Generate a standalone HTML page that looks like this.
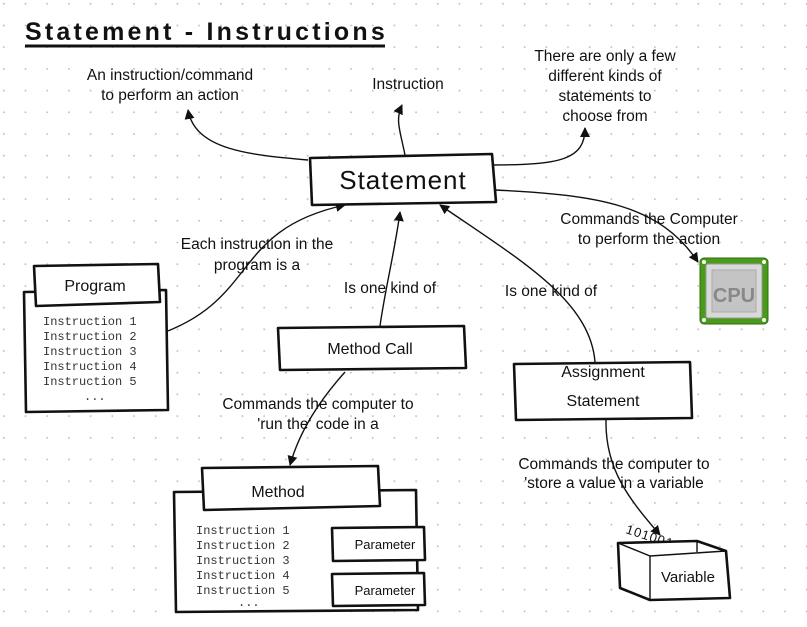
<!DOCTYPE html>
<html><head><meta charset="utf-8"><style>
html,body{margin:0;padding:0;background:#fff}
svg{display:block}
text{font-family:"Liberation Sans",sans-serif;fill:#111}
.l{font-size:15.5px;text-anchor:middle}
.m{font-family:"Liberation Mono",monospace;font-size:12px;fill:#333}
.b{fill:#fff;stroke:#111;stroke-width:2.6;stroke-linejoin:round}
.a{fill:none;stroke:#111;stroke-width:1.4}
</style></head><body>
<svg width="807" height="627" viewBox="0 0 807 627" xmlns="http://www.w3.org/2000/svg">
<defs>
<pattern id="g" x="3" y="3" width="21.7" height="21.7" patternUnits="userSpaceOnUse"><rect x="0" y="0" width="1.6" height="1.6" fill="#bbb"/></pattern>
<marker id="ar" markerWidth="10" markerHeight="10" refX="9" refY="5" orient="auto" markerUnits="userSpaceOnUse"><path d="M0,0 L10,5 L0,10 z" fill="#111"/></marker>
</defs>
<rect width="807" height="627" fill="url(#g)"/>
<text x="25" y="40" font-size="25" font-weight="bold" letter-spacing="3.2">Statement - Instructions</text>
<line x1="25" y1="46" x2="385" y2="46" stroke="#111" stroke-width="3"/>

<!-- arrows -->
<path class="a" marker-end="url(#ar)" d="M308,160 C250,155 195,150 188,110"/>
<path class="a" marker-end="url(#ar)" d="M405,155 C400,130 395,120 402,105"/>
<path class="a" marker-end="url(#ar)" d="M490,165 C560,165 585,160 585,128"/>
<path class="a" marker-end="url(#ar)" d="M495,190 C600,195 660,205 698,262"/>
<path class="a" marker-end="url(#ar)" d="M157,335 C260,300 230,230 345,205"/>
<path class="a" marker-end="url(#ar)" d="M380,326 C385,290 395,250 400,212"/>
<path class="a" marker-end="url(#ar)" d="M595,362 C590,300 520,260 440,205"/>
<path class="a" marker-end="url(#ar)" d="M345,372 C320,400 300,430 290,465"/>
<path class="a" marker-end="url(#ar)" d="M606,420 C605,470 630,500 660,535"/>

<!-- Statement -->
<path class="b" d="M310,158 L492,154 L496,202 L312,205 Z"/>
<text x="403" y="189" font-size="26" text-anchor="middle" letter-spacing="1">Statement</text>

<!-- Program -->
<path class="b" d="M24,292 L166,290 L168,410 L26,412 Z"/>
<path class="b" d="M34,266 L158,264 L160,302 L36,306 Z"/>
<text x="95" y="291" font-size="16" text-anchor="middle">Program</text>
<text class="m" x="43" y="325">Instruction 1</text>
<text class="m" x="43" y="340">Instruction 2</text>
<text class="m" x="43" y="355">Instruction 3</text>
<text class="m" x="43" y="370">Instruction 4</text>
<text class="m" x="43" y="385">Instruction 5</text>
<text class="m" x="84" y="400">...</text>

<!-- Method Call -->
<path class="b" d="M278,328 L464,326 L466,368 L280,370 Z"/>
<text x="370" y="354" font-size="16" text-anchor="middle">Method Call</text>

<!-- Assignment -->
<path class="b" d="M514,364 L690,362 L692,418 L516,420 Z"/>
<text x="603" y="377" font-size="16" text-anchor="middle">Assignment</text>
<text x="603" y="406" font-size="16" text-anchor="middle">Statement</text>

<!-- Method -->
<path class="b" d="M174,492 L416,490 L418,610 L176,612 Z"/>
<path class="b" d="M202,468 L378,466 L380,506 L204,510 Z"/>
<text x="278" y="497" font-size="16" text-anchor="middle">Method</text>
<text class="m" x="196" y="534">Instruction 1</text>
<text class="m" x="196" y="549">Instruction 2</text>
<text class="m" x="196" y="564">Instruction 3</text>
<text class="m" x="196" y="579">Instruction 4</text>
<text class="m" x="196" y="594">Instruction 5</text>
<text class="m" x="238" y="606">...</text>
<path class="b" d="M332,528 L424,527 L425,560 L333,561 Z"/>
<text x="385" y="549" font-size="13" text-anchor="middle">Parameter</text>
<path class="b" d="M332,574 L424,573 L425,605 L333,606 Z"/>
<text x="385" y="595" font-size="13" text-anchor="middle">Parameter</text>

<!-- Variable -->
<text x="625" y="533" font-size="13" transform="rotate(18 625 533)" letter-spacing="1">101001</text>
<path class="b" d="M618,543 L697,541 L726,551 L730,598 L650,600 L620,588 Z"/>
<path class="a" stroke-width="2.4" d="M618,543 L650,556 L726,551 M650,556 L650,600 M697,541 L697,552"/>
<text x="688" y="582" font-size="15" text-anchor="middle">Variable</text>

<!-- CPU -->
<rect x="700" y="258" width="68" height="66" rx="4" fill="#4a9a1c" stroke="#2f6e0e"/>
<rect x="706" y="264" width="56" height="54" rx="2" fill="#d9d9d9" stroke="#999"/>
<rect x="712" y="270" width="44" height="42" fill="#c4c4c4" stroke="#aaa"/>
<text x="734" y="302" font-size="20" text-anchor="middle" style="fill:#888" font-weight="bold">CPU</text>
<circle cx="704" cy="262" r="2" fill="#fff"/><circle cx="764" cy="262" r="2" fill="#fff"/>
<circle cx="704" cy="320" r="2" fill="#fff"/><circle cx="764" cy="320" r="2" fill="#fff"/>

<!-- labels -->
<text class="l" x="170" y="80">An instruction/command</text>
<text class="l" x="170" y="100">to perform an action</text>
<text class="l" x="408" y="89">Instruction</text>
<text class="l" x="605" y="61">There are only a few</text>
<text class="l" x="605" y="81">different kinds of</text>
<text class="l" x="605" y="101">statements to</text>
<text class="l" x="605" y="121">choose from</text>
<text class="l" x="649" y="224">Commands the Computer</text>
<text class="l" x="649" y="244">to perform the action</text>
<text class="l" x="257" y="249">Each instruction in the</text>
<text class="l" x="257" y="270">program is a</text>
<text class="l" x="390" y="293">Is one kind of</text>
<text class="l" x="551" y="296">Is one kind of</text>
<text class="l" x="318" y="409">Commands the computer to</text>
<text class="l" x="318" y="429">'run the' code in a</text>
<text class="l" x="614" y="469">Commands the computer to</text>
<text class="l" x="614" y="488">'store a value in a variable</text>
</svg>
</body></html>
